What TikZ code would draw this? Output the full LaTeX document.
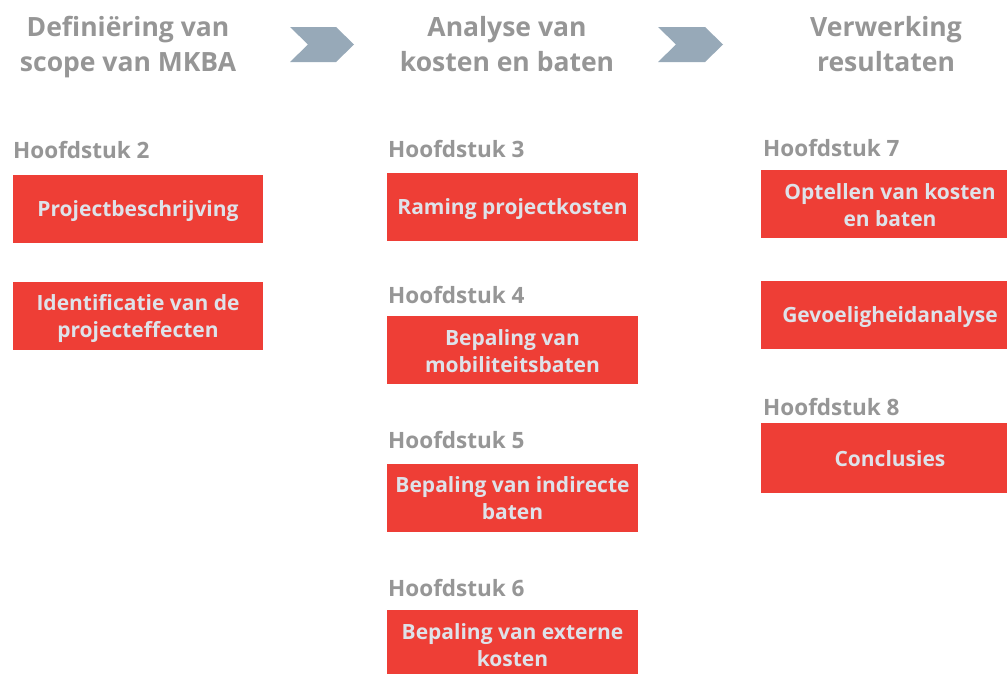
\documentclass[tikz,border=0pt]{standalone}
\usepackage{fontspec}
\setmainfont{Open Sans}
\definecolor{boxred}{RGB}{238,62,54}
\definecolor{boxtext}{RGB}{222,226,233}
\definecolor{headgray}{RGB}{150,150,150}
\definecolor{chevgray}{RGB}{151,169,184}
% fixed-size struts so every line sits at the same place whatever its letters
\newcommand{\boxstrut}{\rule[-4pt]{0pt}{25pt}}
\newcommand{\titlestrut}{\rule[-8pt]{0pt}{22pt}}
\tikzset{
  phasetitle/.style={font=\bfseries\fontsize{26.5}{35}\selectfont, text=headgray, align=center, inner sep=0pt},
  chaplabel/.style={font=\bfseries\fontsize{22.5}{27}\selectfont, text=headgray, anchor=base west, inner sep=0pt},
  stepbox/.style={fill=boxred, text=boxtext, font=\bfseries\fontsize{21}{27}\selectfont, align=center,
                  minimum width=250pt, minimum height=68pt, inner sep=0pt},
  chevron/.style={fill=chevgray, draw=none}
}
\begin{document}
\begin{tikzpicture}[x=1pt,y=-1pt]
\clip (0,0) rectangle (1007,673);
\fill[white] (0,0) rectangle (1007,673);

% phase titles
\node[phasetitle] (t1) at (128,47.5) {\titlestrut Definiëring van\\scope van MKBA\titlestrut};
\node[phasetitle] (t2) at (507,47.5) {\titlestrut Analyse van\\kosten en baten\titlestrut};
\node[phasetitle] (t3) at (886,47.5) {\titlestrut Verwerking\\resultaten\titlestrut};

% chevrons between phases
\fill[chevron] (290,27) -- (336,27) -- (354,44.5) -- (336,62) -- (290,62) -- (308,44.5) -- cycle;
\fill[chevron] (658,27) -- (705,27) -- (723,44.5) -- (705,62) -- (658,62) -- (676,44.5) -- cycle;

% column 1
\node[chaplabel] (h2) at (13,158) {Hoofdstuk 2};
\node[stepbox] (b21) at (138,209) {\boxstrut Projectbeschrijving\boxstrut};
\node[stepbox] (b22) at (138,316) {\boxstrut Identificatie van de\\projecteffecten\boxstrut};

% column 2
\node[chaplabel] (h3) at (388,157) {Hoofdstuk 3};
\node[stepbox, minimum width=251pt] (b3) at (512.5,206.5) {\boxstrut Raming projectkosten\boxstrut};
\node[chaplabel] (h4) at (388,303) {Hoofdstuk 4};
\node[stepbox, minimum width=251pt] (b4) at (512.5,350) {\boxstrut Bepaling van\\mobiliteitsbaten\boxstrut};
\node[chaplabel] (h5) at (388,448) {Hoofdstuk 5};
\node[stepbox, minimum width=251pt] (b5) at (512.5,497.5) {\boxstrut Bepaling van indirecte\\baten\boxstrut};
\node[chaplabel] (h6) at (388,596) {Hoofdstuk 6};
\node[stepbox, minimum width=251pt] (b6) at (512.5,644) {\boxstrut Bepaling van externe\\kosten\boxstrut};

% column 3
\node[chaplabel] (h7) at (763,156) {Hoofdstuk 7};
\node[stepbox, minimum width=258pt] (b71) at (890,204) {\boxstrut Optellen van kosten\\en baten\boxstrut};
\node[stepbox, minimum width=258pt] (b72) at (890,315) {\boxstrut Gevoeligheidanalyse\boxstrut};
\node[chaplabel] (h8) at (763,415) {Hoofdstuk 8};
\node[stepbox, minimum width=258pt, minimum height=70pt] (b8) at (890,458) {\boxstrut Conclusies\boxstrut};
\end{tikzpicture}
\end{document}
